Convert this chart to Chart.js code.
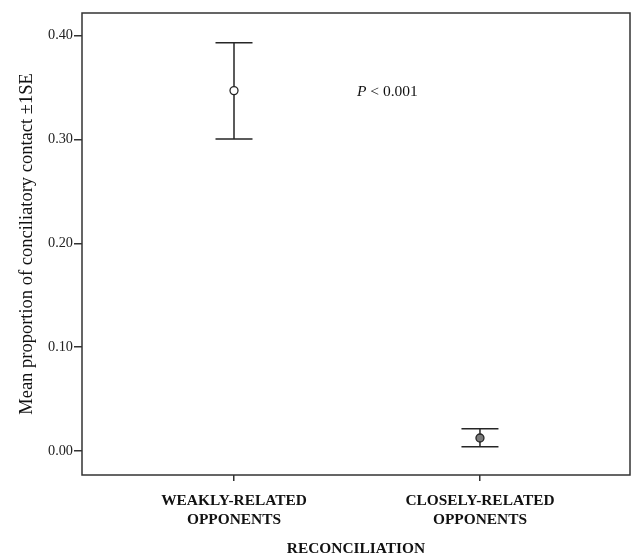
<!DOCTYPE html>
<html>
  <head>
    <meta charset="UTF-8" />
    <title>Reconciliation</title>
    <script src="https://cdn.jsdelivr.net/npm/chart.js@4"></script>
    <style>
      html, body { margin: 0; padding: 0; background: #fff; overflow: hidden; }
      canvas { display: block; }
    </style>
  </head>
  <body>
    <canvas id="chart" width="631" height="560"></canvas>
    <script>
      // values
      const groups = [["WEAKLY-RELATED", "OPPONENTS"], ["CLOSELY-RELATED", "OPPONENTS"]];
      const means = [0.347, 0.0125];
      const lower = [0.3005, 0.004];
      const upper = [0.393, 0.0215];
      const markerFill = ["#ffffff", "#7a7a7a"];
      const yTicks = [0, 0.1, 0.2, 0.3, 0.4];

      const ink = "#262626";
      const serif = "'Liberation Serif', 'Times New Roman', serif";

      const errorBars = {
        id: "errorBars",
        beforeDatasetsDraw(chart) {
          const { ctx, scales: { x, y } } = chart;
          ctx.save();
          ctx.strokeStyle = ink;
          ctx.lineWidth = 1.5;
          means.forEach((m, i) => {
            const px = x.getPixelForValue(i);
            const top = y.getPixelForValue(upper[i]);
            const bot = y.getPixelForValue(lower[i]);
            ctx.beginPath();
            ctx.moveTo(px, top); ctx.lineTo(px, bot);
            ctx.moveTo(px - 18.5, top); ctx.lineTo(px + 18.5, top);
            ctx.moveTo(px - 18.5, bot); ctx.lineTo(px + 18.5, bot);
            ctx.stroke();
          });
          ctx.restore();
        },
        afterDraw(chart) {
          const { ctx, chartArea: a, scales: { x, y } } = chart;
          ctx.save();
          // frame
          ctx.strokeStyle = "#333";
          ctx.lineWidth = 1.5;
          ctx.strokeRect(a.left, a.top, a.right - a.left, a.bottom - a.top);
          // p value note
          const tx = x.getPixelForValue(0.5);
          const ty = y.getPixelForValue(0.346);
          ctx.fillStyle = "#111";
          ctx.textBaseline = "middle";
          ctx.font = "italic 15.5px " + serif;
          ctx.fillText("P", tx, ty);
          const w = ctx.measureText("P").width;
          ctx.font = "15.5px " + serif;
          ctx.fillText(" < 0.001", tx + w, ty);
          ctx.restore();
        }
      };

      new Chart(document.getElementById("chart"), {
        type: "scatter",
        data: {
          datasets: [{
            data: means.map((m, i) => ({ x: i, y: m })),
            pointRadius: 4,
            pointBackgroundColor: markerFill,
            pointBorderColor: ink,
            pointBorderWidth: 1.3
          }]
        },
        options: {
          responsive: false,
          animation: false,
          layout: { autoPadding: false, padding: { top: 13, right: 1, left: 0, bottom: 0 } },
          plugins: { legend: { display: false }, tooltip: { enabled: false } },
          scales: {
            x: {
              type: "linear",
              min: -0.618,
              max: 1.61,
              afterFit: (s) => { s.height = 85; s.paddingLeft = 0; s.paddingRight = 0; },
              afterBuildTicks: (s) => { s.ticks = groups.map((g, i) => ({ value: i })); },
              grid: { drawOnChartArea: false, drawTicks: true, tickLength: 6, color: "#333", lineWidth: 1.5 },
              border: { display: false },
              ticks: {
                autoSkip: false,
                maxRotation: 0,
                padding: 11,
                color: "#111",
                font: { family: serif, size: 15.4, weight: "bold", lineHeight: 1.2 },
                callback: (v) => groups[v]
              },
              title: {
                display: true,
                text: "RECONCILIATION",
                color: "#111",
                font: { family: serif, size: 15.4, weight: "bold" },
                padding: { top: 0, bottom: 2 }
              }
            },
            y: {
              min: -0.0231,
              max: 0.4217,
              afterFit: (s) => { s.width = 82; },
              afterBuildTicks: (s) => { s.ticks = yTicks.map((v) => ({ value: v })); },
              grid: { drawOnChartArea: false, drawTicks: true, tickLength: 8, color: "#333", lineWidth: 1.5 },
              border: { display: false },
              ticks: {
                padding: 1,
                color: "#222",
                font: { family: serif, size: 14.3 },
                callback: (v) => v.toFixed(2)
              },
              title: {
                display: true,
                text: "Mean proportion of conciliatory contact \u00b11SE",
                color: "#111",
                font: { family: serif, size: 18.5 },
                padding: { top: 16, bottom: 0 }
              }
            }
          }
        },
        plugins: [errorBars]
      });
    </script>
  </body>
</html>
